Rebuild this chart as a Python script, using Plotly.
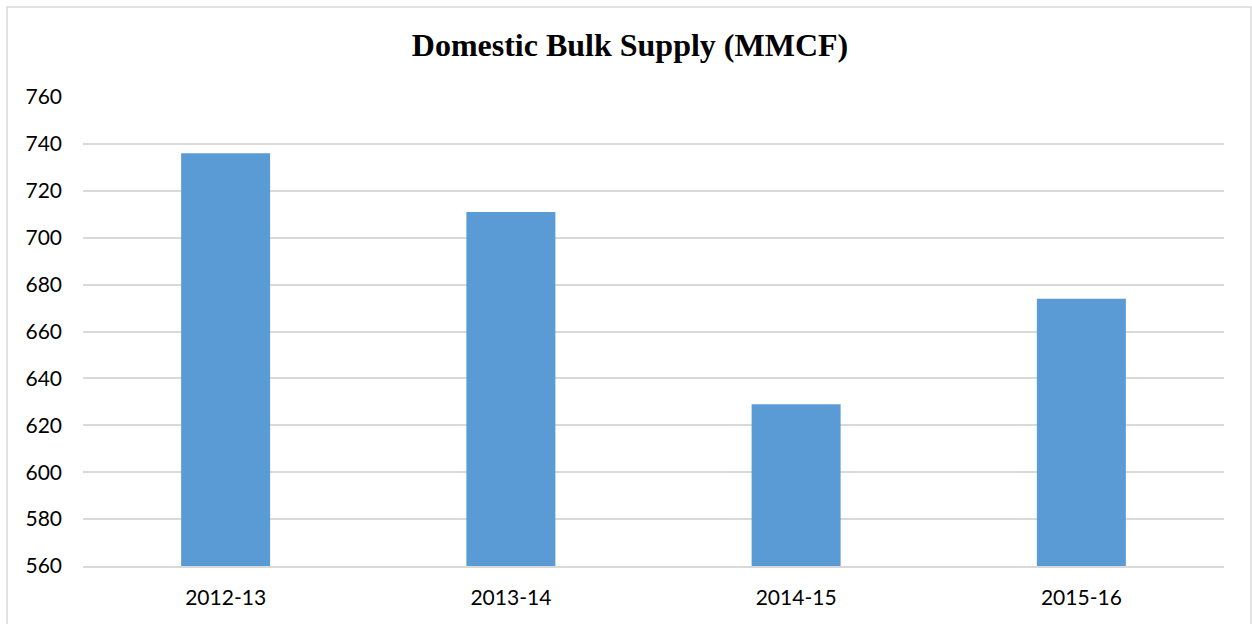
import plotly.graph_objects as go

categories = ["2012-13", "2013-14", "2014-15", "2015-16"]
values = [736, 711, 629, 674]
y_ticks = [560, 580, 600, 620, 640, 660, 680, 700, 720, 740, 760]

W, H = 1252, 624
L, R, T, B = 83, 28, 97, 58
pw, ph = W - L - R, H - T - B

fig = go.Figure(go.Bar(
    x=categories, y=values, marker_color="#5B9BD5",
    marker_line_width=0, width=0.312,
))

def px_x(p):
    return (p - L) / pw

def px_y(p):
    return (H - B - p) / ph

fig.add_shape(type="rect", xref="paper", yref="paper",
              x0=px_x(7), x1=px_x(1251), y0=px_y(640), y1=px_y(7),
              line=dict(color="#d9d9d9", width=1.5), layer="below")

fig.update_layout(
    width=W, height=H,
    margin=dict(l=L, r=R, t=T, b=B),
    paper_bgcolor="white", plot_bgcolor="white",
    title=dict(text="<b>Domestic Bulk Supply (MMCF)</b>",
               font=dict(family="Liberation Serif", size=32, color="black"),
               x=630 / W, xanchor="center", xref="container",
               y=1 - 45 / H, yanchor="middle", yref="container"),
    showlegend=False,
    bargap=0.688,
    font=dict(family="Lato", size=21, color="black"),
    xaxis=dict(showgrid=False, showline=True, linecolor="#d9d9d9", linewidth=1.5,
               ticks="", tickfont=dict(size=21, family="Lato"), ticklabelstandoff=12),
    yaxis=dict(range=[560, 760], tickvals=y_ticks, showgrid=True,
               gridcolor="#d9d9d9", gridwidth=1.5, zeroline=False,
               showline=False, ticks="", tickfont=dict(size=21, family="Lato"),
               ticklabelstandoff=20),
)

fig.write_html("out.html", config={"displayModeBar": False},
               post_script="document.body.style.margin='0';document.body.style.overflow='hidden';")
